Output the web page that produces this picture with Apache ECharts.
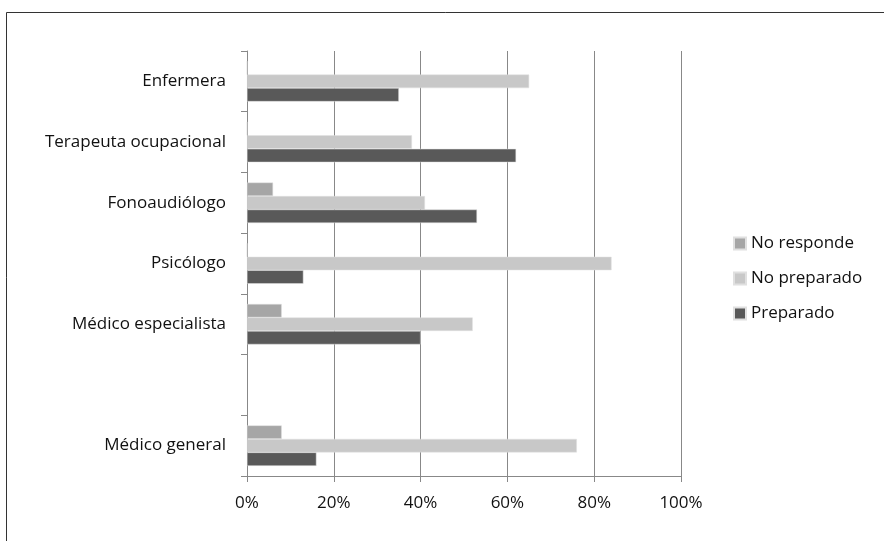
<!DOCTYPE html>
<html>
<head>
<meta charset="utf-8">
<script src="https://cdn.jsdelivr.net/npm/echarts@6/dist/echarts.min.js"></script>
<style>
  html, body { margin: 0; padding: 0; background: #fff; }
  #chart { width: 884px; height: 541px; }
</style>
</head>
<body>
<div id="chart"></div>
<script>
// Professions, top to bottom (the blank entry leaves an empty row)
const categories = ['Enfermera', 'Terapeuta ocupacional', 'Fonoaudiólogo', 'Psicólogo', 'Médico especialista', '', 'Médico general'];
const seriesNames = ['No responde', 'No preparado', 'Preparado'];
// Percentages per profession
const noResponde  = [0, 0, 6, 0, 8, null, 8];
const noPreparado = [65, 38, 41, 84, 52, null, 76];
const preparado   = [35, 62, 53, 13, 40, null, 16];
const xTicks = [0, 20, 40, 60, 80, 100];

const colors = ['#a6a6a6', '#c8c8c8', '#595959'];
const font = '"Open Sans", Lato, sans-serif';

const chart = echarts.init(document.getElementById('chart'));
const values = [noResponde, noPreparado, preparado];

chart.setOption({
  animation: false,
  backgroundColor: '#fff',
  graphic: [{
    type: 'rect',
    shape: { x: 6.5, y: 12.5, width: 900, height: 600 },
    style: { fill: 'none', stroke: '#333', lineWidth: 1 },
    silent: true
  }],
  grid: { left: 247, right: 203, top: 51, bottom: 65, containLabel: false },
  legend: {
    orient: 'vertical',
    left: 733,
    top: 232,
    padding: 0,
    itemWidth: 12,
    itemHeight: 12,
    itemGap: 12,
    icon: 'rect',
    data: seriesNames,
    textStyle: { fontFamily: font, fontSize: 17, color: '#111', lineHeight: 23 }
  },
  xAxis: {
    type: 'value',
    min: xTicks[0],
    max: xTicks[xTicks.length - 1],
    interval: 20,
    axisLine: { show: true, lineStyle: { color: '#888', width: 1 } },
    axisTick: { show: true, length: 6, lineStyle: { color: '#888' } },
    axisLabel: { formatter: v => v + '%', fontFamily: font, fontSize: 17, color: '#111', margin: 19 },
    splitLine: { show: true, lineStyle: { color: '#888', width: 1 } }
  },
  yAxis: {
    type: 'category',
    data: categories,
    inverse: true,
    axisLine: { show: true, lineStyle: { color: '#888', width: 1 } },
    axisTick: { show: true, length: 6, lineStyle: { color: '#888' } },
    axisLabel: { fontFamily: font, fontSize: 17, color: '#111', margin: 21 }
  },
  series: seriesNames.map((name, i) => ({
    name: name,
    type: 'bar',
    data: values[i],
    barWidth: 13.5,
    barGap: '0%',
    itemStyle: { color: colors[i], borderColor: '#e0e0e0', borderWidth: 0.5 }
  }))
});
</script>
</body>
</html>
